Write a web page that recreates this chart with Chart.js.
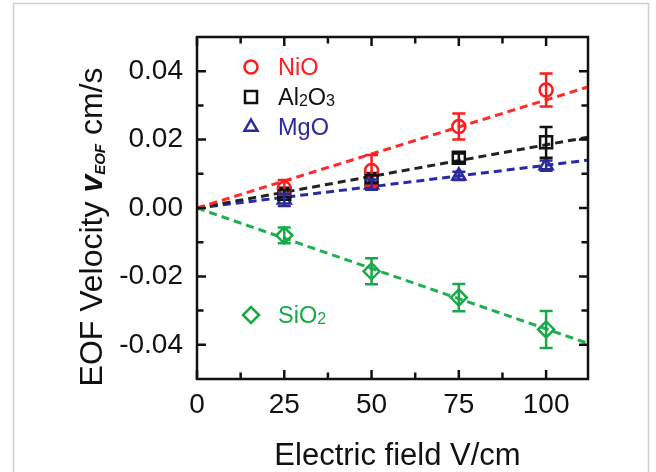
<!DOCTYPE html>
<html>
<head>
<meta charset="utf-8">
<script src="https://cdn.jsdelivr.net/npm/chart.js@4.4.1/dist/chart.umd.min.js"></script>
<style>
  html, body { margin: 0; padding: 0; background: #fff; }
  canvas { display: block; }
</style>
</head>
<body>
<canvas id="eof-chart" width="656" height="472"></canvas>
<script>
// Electric field (V/cm)
const fields = [25, 50, 75, 100];

// EOF velocity (cm/s) and error bar half heights, one pair per oxide
const nioVel = [0.0058, 0.0110, 0.0238, 0.0345];
const nioErr = [0.0024, 0.0045, 0.0038, 0.0048];
const al2o3Vel = [0.0042, 0.0085, 0.0147, 0.0192];
const al2o3Err = [0.0010, 0.0011, 0.0012, 0.0045];
const mgoVel = [0.0024, 0.0068, 0.0094, 0.0124];
const mgoErr = [0.0018, 0.0015, 0.0012, 0.0015];
const sio2Vel = [-0.0080, -0.0185, -0.0262, -0.0355];
const sio2Err = [0.0023, 0.0038, 0.0040, 0.0054];

// dashed linear fits, read at both ends of the x axis
const fitX = [0, 112];
const nioFit = [0, 0.0354];
const al2o3Fit = [0, 0.0207];
const mgoFit = [0, 0.0140];
const sio2Fit = [0, -0.0396];

// axis ticks
const xTicks = [0, 25, 50, 75, 100];
const xMinorTicks = [12.5, 37.5, 62.5, 87.5];
const yTicks = [-0.04, -0.02, 0, 0.02, 0.04];
const yTickLabels = ['-0.04', '-0.02', '0.00', '0.02', '0.04'];
const yMinorTicks = [-0.03, -0.01, 0.01, 0.03];

const FONT = '"Liberation Sans", Arial, Helvetica, sans-serif';

const series = [
  { name: 'NiO', vel: nioVel, err: nioErr, fit: nioFit, style: 'circle', r: 6.5, color: '#ff1c1c', line: '#ff2a2a' },
  { name: 'Al2O3', vel: al2o3Vel, err: al2o3Err, fit: al2o3Fit, style: 'rect', r: 8.5, color: '#111111', line: '#222222' },
  { name: 'MgO', vel: mgoVel, err: mgoErr, fit: mgoFit, style: 'triangle', r: 7.5, color: '#2a2a9c', line: '#2a2aa8' },
  { name: 'SiO2', vel: sio2Vel, err: sio2Err, fit: sio2Fit, style: 'rectRot', r: 8, color: '#18a848', line: '#1eb04e' }
];

function toPoints(xs, ys) {
  return xs.map((x, i) => ({ x: x, y: ys[i] }));
}

// same shape geometry as chart.js point styles
function drawMarker(ctx, style, x, y, r) {
  ctx.beginPath();
  if (style === 'circle') {
    ctx.arc(x, y, r, 0, Math.PI * 2);
  } else if (style === 'rect') {
    const s = r * Math.SQRT1_2;
    ctx.rect(x - s, y - s, 2 * s, 2 * s);
  } else if (style === 'triangle') {
    ctx.moveTo(x, y - r);
    ctx.lineTo(x + 0.866 * r, y + 0.5 * r);
    ctx.lineTo(x - 0.866 * r, y + 0.5 * r);
    ctx.closePath();
  } else if (style === 'rectRot') {
    ctx.moveTo(x, y - r);
    ctx.lineTo(x + r, y);
    ctx.lineTo(x, y + r);
    ctx.lineTo(x - r, y);
    ctx.closePath();
  }
  ctx.stroke();
}

// text with digits drawn as small subscripts, e.g. Al2O3
function drawChem(ctx, text, x, y, size) {
  let cx = x;
  for (const ch of text) {
    if (/[0-9]/.test(ch)) {
      ctx.font = Math.round(size * 0.68) + 'px ' + FONT;
      ctx.fillText(ch, cx, y + 1);
    } else {
      ctx.font = size + 'px ' + FONT;
      ctx.fillText(ch, cx, y);
    }
    cx += ctx.measureText(ch).width;
  }
}

const decorPlugin = {
  id: 'decor',
  beforeDraw(chart) {
    const ctx = chart.ctx;
    ctx.save();
    ctx.fillStyle = '#fff';
    ctx.fillRect(0, 0, chart.width, chart.height);
    ctx.strokeStyle = '#cfcfcf';
    ctx.lineWidth = 1.5;
    ctx.strokeRect(13.5, 3.5, 635, 490);
    ctx.restore();
  },
  afterDatasetsDraw(chart) {
    const ctx = chart.ctx;
    const xs = chart.scales.x, ys = chart.scales.y;
    ctx.save();
    ctx.lineWidth = 2.5;
    series.forEach((s) => {
      ctx.strokeStyle = s.color;
      fields.forEach((f, i) => {
        const px = xs.getPixelForValue(f);
        const top = ys.getPixelForValue(s.vel[i] + s.err[i]);
        const bot = ys.getPixelForValue(s.vel[i] - s.err[i]);
        ctx.beginPath();
        ctx.moveTo(px, top); ctx.lineTo(px, bot);
        ctx.moveTo(px - 6.5, top); ctx.lineTo(px + 6.5, top);
        ctx.moveTo(px - 6.5, bot); ctx.lineTo(px + 6.5, bot);
        ctx.stroke();
      });
    });
    ctx.restore();
  },
  afterDraw(chart) {
    const ctx = chart.ctx;
    const a = chart.chartArea;
    const xs = chart.scales.x, ys = chart.scales.y;
    ctx.save();

    // box and inward ticks on all four sides
    ctx.strokeStyle = '#111';
    ctx.lineWidth = 2.5;
    ctx.strokeRect(a.left, a.top, a.right - a.left, a.bottom - a.top);
    ctx.beginPath();
    const xt = xTicks.map((v) => [v, 9]).concat(xMinorTicks.map((v) => [v, 6.5]));
    xt.forEach(([v, len]) => {
      const px = xs.getPixelForValue(v);
      ctx.moveTo(px, a.bottom); ctx.lineTo(px, a.bottom - len);
      ctx.moveTo(px, a.top); ctx.lineTo(px, a.top + len);
    });
    const yt = yTicks.map((v) => [v, 9]).concat(yMinorTicks.map((v) => [v, 6.5]));
    yt.forEach(([v, len]) => {
      const py = ys.getPixelForValue(v);
      ctx.moveTo(a.left, py); ctx.lineTo(a.left + len, py);
      ctx.moveTo(a.right, py); ctx.lineTo(a.right - len, py);
    });
    ctx.stroke();

    // x axis title
    ctx.fillStyle = '#111';
    ctx.textAlign = 'center';
    ctx.textBaseline = 'alphabetic';
    ctx.font = '31px ' + FONT;
    ctx.fillText('Electric field V/cm', (a.left + a.right) / 2 + 5, a.bottom + 86);

    // y axis title, with bold italic v and EOF subscript
    ctx.save();
    ctx.translate(102, (a.top + a.bottom) / 2 + 19);
    ctx.rotate(-Math.PI / 2);
    ctx.textAlign = 'left';
    const parts = [
      { t: 'EOF Velocity ', f: '32px ' + FONT, dy: 0 },
      { t: 'v', f: 'italic bold 32px ' + FONT, dy: 0 },
      { t: 'EOF', f: 'italic bold 15px ' + FONT, dy: 3 },
      { t: ' cm/s', f: '32px ' + FONT, dy: 0 }
    ];
    let total = 0;
    parts.forEach((p) => { ctx.font = p.f; total += ctx.measureText(p.t).width; });
    let cx = -total / 2;
    parts.forEach((p) => {
      ctx.font = p.f;
      ctx.fillText(p.t, cx, p.dy);
      cx += ctx.measureText(p.t).width;
    });
    ctx.restore();

    // legend inside the plot
    const rows = [30, 60, 90, 278];
    ctx.textAlign = 'left';
    ctx.lineWidth = 2.5;
    series.forEach((s, i) => {
      const my = a.top + rows[i];
      ctx.strokeStyle = s.color;
      drawMarker(ctx, s.style, a.left + 54, my, s.r);
      ctx.fillStyle = s.color;
      drawChem(ctx, s.name, a.left + 81, my + 8, 23.5);
    });

    ctx.restore();
  }
};

const datasets = [];
series.forEach((s) => {
  datasets.push({
    type: 'scatter',
    label: s.name,
    data: toPoints(fields, s.vel),
    pointStyle: s.style,
    pointRadius: s.r,
    pointBorderWidth: 2.5,
    pointBackgroundColor: 'rgba(0,0,0,0)',
    pointBorderColor: s.color,
    order: 0
  });
});
series.forEach((s) => {
  datasets.push({
    type: 'line',
    label: s.name + ' fit',
    data: toPoints(fitX, s.fit),
    borderColor: s.line,
    borderWidth: 3,
    borderDash: [8, 5],
    pointRadius: 0,
    fill: false,
    order: 1
  });
});

new Chart(document.getElementById('eof-chart'), {
  type: 'scatter',
  data: { datasets: datasets },
  options: {
    responsive: false,
    animation: false,
    devicePixelRatio: 1,
    layout: { padding: { left: 0, top: 37, right: 68, bottom: 0 } },
    plugins: { legend: { display: false }, tooltip: { enabled: false } },
    scales: {
      x: {
        type: 'linear',
        min: 0,
        max: 112,
        grid: { display: false, drawTicks: false },
        border: { display: false },
        afterBuildTicks: (s) => { s.ticks = xTicks.map((v) => ({ value: v })); },
        afterFit: (s) => { s.height = 93; },
        ticks: {
          padding: 9,
          color: '#111',
          maxRotation: 0,
          font: { family: FONT, size: 28 },
          callback: (v) => String(v)
        }
      },
      y: {
        type: 'linear',
        min: -0.05,
        max: 0.05,
        grid: { display: false, drawTicks: false },
        border: { display: false },
        afterBuildTicks: (s) => { s.ticks = yTicks.map((v) => ({ value: v })); },
        afterFit: (s) => { s.width = 197; },
        ticks: {
          padding: 14,
          color: '#111',
          font: { family: FONT, size: 28 },
          callback: (v, i) => yTickLabels[i]
        }
      }
    }
  },
  plugins: [decorPlugin]
});
</script>
</body>
</html>
